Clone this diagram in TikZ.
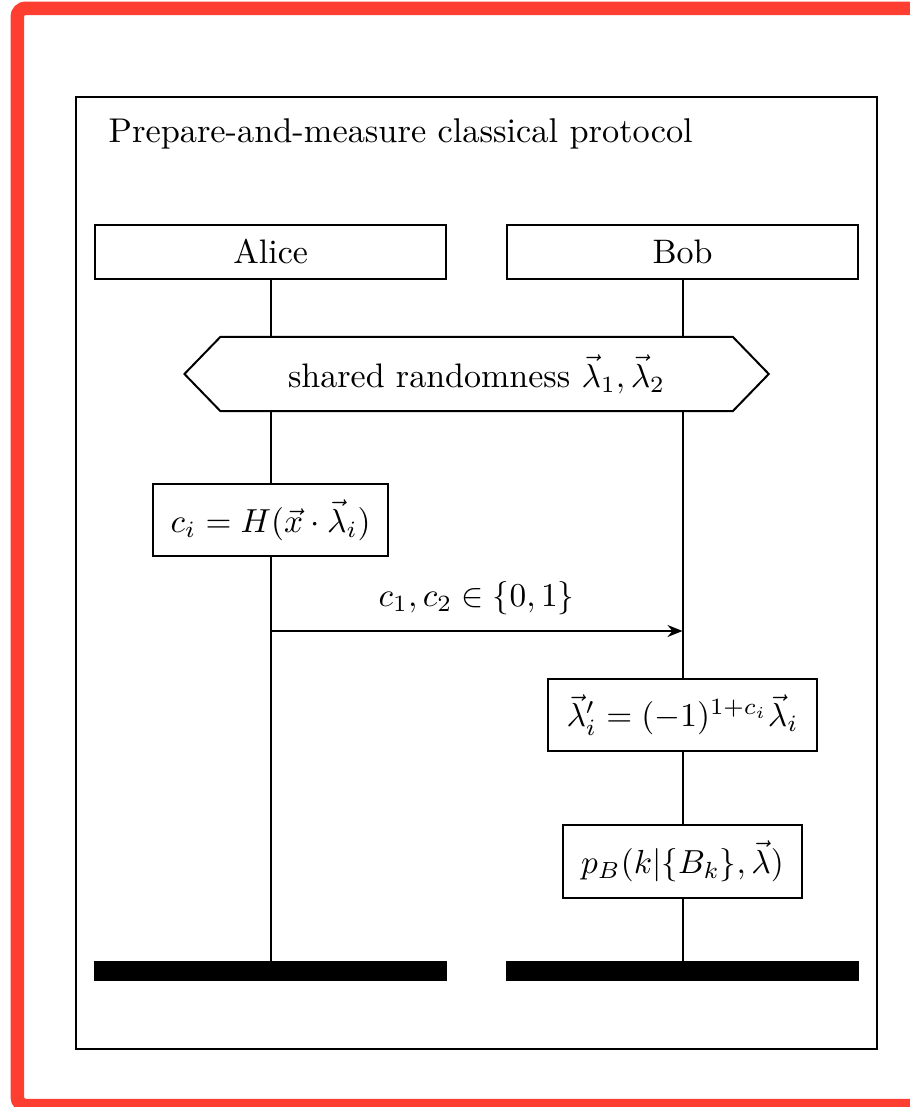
\documentclass[tikz,border=0pt]{standalone}
\usetikzlibrary{arrows.meta}
\definecolor{framered}{RGB}{255,62,50}
\begin{document}
\begin{tikzpicture}[x=0.3pt,y=-0.3pt,
  every node/.style={font=\fontsize{10.2pt}{12pt}\selectfont},
  actor/.style={draw,line width=0.6pt,minimum width=105.3pt,minimum height=16.2pt,inner sep=0pt},
  stepbox/.style={draw,line width=0.6pt,fill=white,inner sep=0pt},
  endbar/.style={fill=black,minimum width=105.8pt,minimum height=5.8pt,inner sep=0pt},
  life/.style={line width=0.6pt},
  msg/.style={line width=0.6pt,-{Stealth[length=4.5pt,width=3.6pt]}}]
\useasboundingbox (0,0) rectangle (910,1107);
\begin{scope}
\clip (0,0) rectangle (910,1107);
\draw[framered,line width=4.05pt,rounded corners=2.5pt] (17.3,8.3) rectangle (940,1105.5);
\end{scope}
\draw[line width=0.6pt] (75.7,97.3) rectangle (876.7,1048.5);
\node[anchor=base west,inner sep=0pt,font=\fontsize{10.3pt}{12pt}\selectfont] (title) at (108,143) {Prepare-and-measure classical protocol};
\node[actor] (alice) at (270.7,252) {Alice};
\node[actor] (bob) at (682.5,252) {Bob};
\node[minimum width=153.3pt,minimum height=21.9pt,inner sep=0pt] (shared) at (476.6,374) {shared randomness $\vec{\lambda}_1,\vec{\lambda}_2$};
\draw[line width=0.6pt] (shared.north west) -- (shared.north east) -- ([xshift=10.8pt]shared.east) -- (shared.south east) -- (shared.south west) -- ([xshift=-10.8pt]shared.west) -- cycle;
\node[stepbox,minimum width=70.5pt,minimum height=21.6pt] (ci) at (270.7,520) {$c_i = H(\vec{x}\cdot\vec{\lambda}_i)$};
\node[stepbox,minimum width=80.5pt,minimum height=21.4pt] (flip) at (682.5,715) {$\vec{\lambda}'_i = (-1)^{1+c_i}\vec{\lambda}_i$};
\node[stepbox,minimum width=71.5pt,minimum height=21.9pt] (pb) at (682.5,861) {$p_B(k|\{B_k\},\vec{\lambda})$};
\node[endbar] (aend) at (270.7,971) {};
\node[endbar] (bend) at (682.5,971) {};
\draw[life] (alice.south) -- (alice.south |- shared.north);
\draw[life] (alice.south |- shared.south) -- (ci.north);
\draw[life] (ci.south) -- (aend.north);
\draw[life] (bob.south) -- (bob.south |- shared.north);
\draw[life] (bob.south |- shared.south) -- (flip.north);
\draw[life] (flip.south) -- (pb.north);
\draw[life] (pb.south) -- (bend.north);
\coordinate (msgstart) at (270.7,631);
\draw[msg] (msgstart) -- (msgstart -| bob.south) node[midway,above=4.5pt,inner sep=0pt] (msglabel) {$c_1,c_2\in\{0,1\}$};
\end{tikzpicture}
\end{document}
